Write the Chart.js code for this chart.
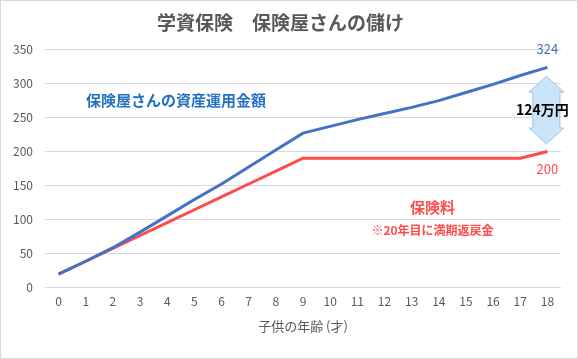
<!DOCTYPE html>
<html>
<head>
<meta charset="utf-8">
<script src="https://cdn.jsdelivr.net/npm/chart.js@4"></script>
<style>
html,body{margin:0;padding:0;background:#fff;}
#wrap{width:578px;height:359px;position:relative;}
</style>
</head>
<body>
<div id="wrap"><canvas id="c" width="578" height="359"></canvas></div>
<script>
const ages = ['0','1','2','3','4','5','6','7','8','9','10','11','12','13','14','15','16','17','18'];
const assetValues = [19,38,58,81,105,129,152,177,202,227,237,247,256,265,275,287,299,312,324];
const premiumValues = [19,38,57,76,95,114,133,152,171,190,190,190,190,190,190,190,190,190,200];
const yTicks = {min:0, max:350, step:50};

const BLUE = '#4472c4';
const RED = '#ff4b4b';
const TEXT_BLUE = '#2272c3';
const FONT = "'Noto Sans CJK JP', 'Noto Sans', sans-serif";

const annot = {
  id:'annot',
  afterDatasetsDraw(chart){
    const ctx = chart.ctx;
    const x = chart.scales.x, y = chart.scales.y;
    ctx.save();
    const last = ages.length - 1;
    ctx.textAlign = 'center';
    ctx.textBaseline = 'middle';
    ctx.font = '13px ' + FONT;
    ctx.fillStyle = BLUE;
    ctx.fillText(String(assetValues[last]), x.getPixelForValue(last), y.getPixelForValue(assetValues[last]) - 18);
    ctx.fillStyle = RED;
    ctx.fillText(String(premiumValues[last]), x.getPixelForValue(last), y.getPixelForValue(premiumValues[last]) + 18);

    ctx.font = 'bold 15px ' + FONT;
    ctx.fillStyle = TEXT_BLUE;
    ctx.fillText('保険屋さんの資産運用金額', x.getPixelForValue(4.32), y.getPixelForValue(276));
    ctx.fillStyle = RED;
    ctx.fillText('保険料', x.getPixelForValue(13.77), y.getPixelForValue(118));
    ctx.font = 'bold 12px ' + FONT;
    ctx.fillText('※20年目に満期返戻金', x.getPixelForValue(13.77), y.getPixelForValue(84));

    const cx = x.getPixelForValue(last) - 1;
    const yt = y.getPixelForValue(311), yb = y.getPixelForValue(211);
    const hw = 17.5, sw = 13.5, hh = 16;
    ctx.beginPath();
    ctx.moveTo(cx, yt);
    ctx.lineTo(cx + hw, yt + hh);
    ctx.lineTo(cx + sw, yt + hh);
    ctx.lineTo(cx + sw, yb - hh);
    ctx.lineTo(cx + hw, yb - hh);
    ctx.lineTo(cx, yb);
    ctx.lineTo(cx - hw, yb - hh);
    ctx.lineTo(cx - sw, yb - hh);
    ctx.lineTo(cx - sw, yt + hh);
    ctx.lineTo(cx - hw, yt + hh);
    ctx.closePath();
    ctx.fillStyle = '#cbe5f8';
    ctx.fill();
    ctx.strokeStyle = '#9dc3e6';
    ctx.lineWidth = 1;
    ctx.stroke();

    ctx.font = 'bold 14px ' + FONT;
    ctx.fillStyle = '#000';
    ctx.fillText('124万円', cx - 4, (yt + yb) / 2);

    ctx.strokeStyle = '#d9d9d9';
    ctx.lineWidth = 1;
    ctx.strokeRect(0.5, 0.5, chart.width - 1, chart.height - 1);
    ctx.restore();
  }
};

new Chart(document.getElementById('c'), {
  type:'line',
  data:{
    labels: ages,
    datasets:[
      {label:'保険屋さんの資産運用金額', data:assetValues, borderColor:BLUE, borderWidth:3, pointRadius:0, tension:0, fill:false},
      {label:'保険料', data:premiumValues, borderColor:RED, borderWidth:3, pointRadius:0, tension:0, fill:false}
    ]
  },
  options:{
    responsive:false,
    animation:false,
    devicePixelRatio:1,
    layout:{padding:{left:0, right:17, top:0, bottom:20}},
    plugins:{
      legend:{display:false},
      tooltip:{enabled:false},
      title:{
        display:true,
        text:'学資保険　保険屋さんの儲け',
        color:'#595959',
        font:{family:FONT, size:19, weight:'bold'},
        padding:{top:11, bottom:16}
      }
    },
    scales:{
      x:{
        offset:true,
        grid:{display:false, drawTicks:false},
        border:{display:false},
        ticks:{color:'#595959', font:{family:FONT, size:12}, padding:7, maxRotation:0, autoSkip:false},
        title:{display:true, text:'子供の年齢 (才)', color:'#595959', font:{family:FONT, size:13}, padding:{top:0, bottom:5}},
        afterFit(s){ s.height = 52; }
      },
      y:{
        min:yTicks.min, max:yTicks.max,
        grid:{color:'#d9d9d9', drawTicks:false},
        border:{display:false},
        ticks:{stepSize:yTicks.step, color:'#595959', font:{family:FONT, size:12}, padding:12},
        afterFit(s){ s.width = 45; }
      }
    }
  },
  plugins:[annot]
});
</script>
</body>
</html>
